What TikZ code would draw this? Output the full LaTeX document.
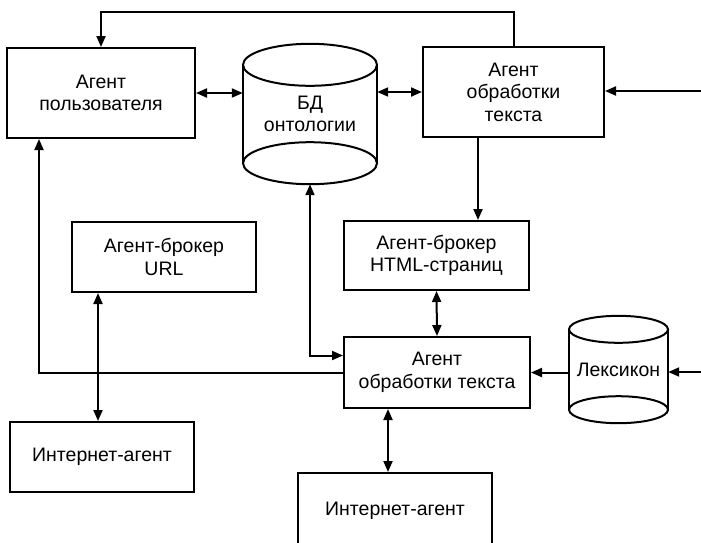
\documentclass[tikz,border=0pt]{standalone}
\usepackage{fontspec}
\setmainfont{Liberation Sans}
\usetikzlibrary{arrows.meta}

\begin{document}
\begin{tikzpicture}[x=1pt,y=-1pt,
  box/.style={draw,line width=2pt,align=center,inner sep=0pt,font=\fontsize{19.5}{22.5}\selectfont},
  dbase/.style={align=center,inner sep=0pt,font=\fontsize{19.5}{22.5}\selectfont},
  line/.style={line width=2pt},
  arr/.style={line width=2pt,-{Triangle[length=11pt,width=9pt]}},
  dbl/.style={line width=2pt,{Triangle[length=11pt,width=9pt]}-{Triangle[length=11pt,width=9pt]}}]
\useasboundingbox (0,0) rectangle (701,542);

\node (UA) at (101,93) [box,minimum width=188pt,minimum height=90pt]{Агент\\пользователя};
\node (DB) at (310,114) [dbase,minimum width=134pt,minimum height=140pt]{БД\\онтологии};
\node (TA) at (513.5,92) [box,minimum width=181pt,minimum height=90pt]{Агент\\обработки\\текста};
\node (UB) at (164,257) [box,minimum width=184pt,minimum height=70pt]{Агент-брокер\\URL};
\node (HB) at (436.5,255.5) [box,minimum width=185pt,minimum height=69pt]{Агент-брокер\\HTML-страниц};
\node (TB) at (437,372.5) [box,minimum width=186pt,minimum height=71pt]{Агент\\обработки текста};
\node (LX) at (618.5,369.5) [dbase,minimum width=99pt,minimum height=107pt]{Лексикон};
\node (IA) at (102,457) [box,minimum width=184pt,minimum height=70pt]{Интернет-агент};
\node (IB) at (395,510.5) [box,minimum width=194pt,minimum height=75pt]{Интернет-агент};

% cylinders
\draw[line] (DB.north west) ++(0,21) -- ++(0,98) (DB.north east) ++(0,21) -- ++(0,98);
\draw[line] ([yshift=-21pt]DB.north) ellipse [x radius=67, y radius=21];
\draw[line] ([yshift=21pt]DB.south) ellipse [x radius=67, y radius=21];
\draw[line] (LX.north west) ++(0,13.5) -- ++(0,80) (LX.north east) ++(0,13.5) -- ++(0,80);
\draw[line] ([yshift=-13.5pt]LX.north) ellipse [x radius=49.5, y radius=13.5];
\draw[line] ([yshift=13.5pt]LX.south) ellipse [x radius=49.5, y radius=13.5];

\coordinate (in1) at (701,91);
\coordinate (in2) at (701,372);

\draw[dbl] (UA.east) -- (UA.east -| DB.west);
\draw[dbl] (TA.west -| DB.east) -- (TA.west);
\draw[arr] (TA.north) -- ++(0,-34) -| (UA.north);
\draw[arr] (in1) -- (in1 -| TA.east);
\draw[arr] ([xshift=41.5pt]HB.north |- TA.south) -- ([xshift=41.5pt]HB.north);
\draw[dbl] (HB.south) -- (TB.north);
\draw[arr] (LX.west |- TB) -- (TB.east);
\draw[arr] (in2) -- (in2 -| LX.east);
\draw[arr] (TB.west) -| ([xshift=33pt]UA.south west);
\draw[dbl] (DB.south) |- ([yshift=17pt]TB.west);
\draw[dbl] ([xshift=-4pt]IA.north |- UB.south) -- ([xshift=-4pt]IA.north);
\draw[dbl] ([xshift=-7pt]IB.north |- TB.south) -- ([xshift=-7pt]IB.north);

\end{tikzpicture}
\end{document}
